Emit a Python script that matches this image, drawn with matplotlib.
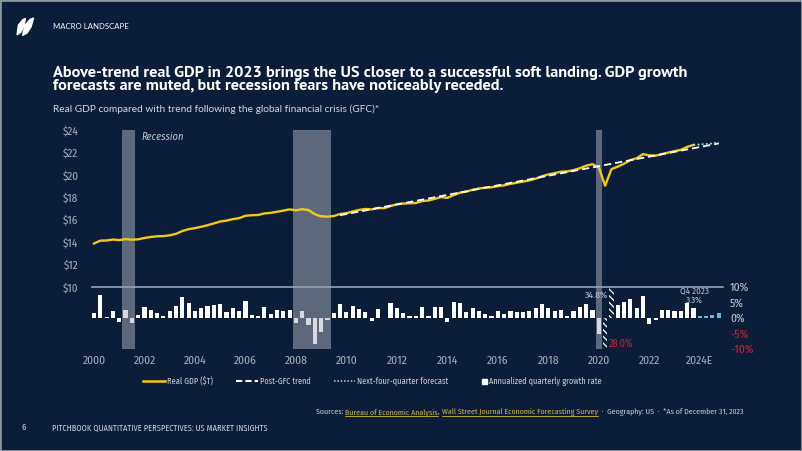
import matplotlib
matplotlib.use("Agg")
import matplotlib.pyplot as plt
import numpy as np
from matplotlib.lines import Line2D
from matplotlib.patches import Rectangle, Polygon

# ---------------- data ----------------
years = list(range(2000, 2025))
quarters = [f"{y}Q{q}" for y in years for q in (1, 2, 3, 4)]

# Real GDP, $T, 2000Q1 .. 2023Q4
real_gdp = [13.88, 14.13, 14.15, 14.23, 14.18, 14.27, 14.22, 14.25,
            14.37, 14.46, 14.52, 14.54, 14.61, 14.74, 14.99, 15.16,
            15.25, 15.37, 15.51, 15.67, 15.84, 15.92, 16.05, 16.14,
            16.35, 16.40, 16.42, 16.56, 16.61, 16.71, 16.81, 16.92,
            16.84, 16.94, 16.86, 16.49, 16.30, 16.27, 16.33, 16.51,
            16.58, 16.74, 16.87, 16.96, 16.92, 17.04, 17.03, 17.22,
            17.37, 17.44, 17.47, 17.49, 17.66, 17.71, 17.86, 18.02,
            17.95, 18.19, 18.41, 18.50, 18.67, 18.78, 18.86, 18.89,
            19.00, 19.06, 19.20, 19.30, 19.40, 19.51, 19.66, 19.88,
            20.04, 20.15, 20.28, 20.31, 20.42, 20.59, 20.82, 20.95,
            20.67, 19.03, 20.51, 20.73, 20.99, 21.31, 21.48, 21.85,
            21.74, 21.71, 21.85, 21.99, 22.11, 22.23, 22.49, 22.67]

# Annualized quarterly growth rate (%), 2000Q1 .. 2023Q4
growth = [1.5, 7.5, 0.4, 2.4, -1.3, 2.5, -1.6, 1.1,
          3.4, 2.5, 1.6, 0.5, 2.1, 3.8, 6.8, 4.7,
          2.2, 3.1, 3.8, 4.1, 4.5, 1.9, 3.2, 2.3,
          5.5, 0.9, 0.6, 3.5, 1.2, 2.5, 2.4, 2.5,
          -1.6, 2.3, -2.1, -8.5, -4.6, -0.7, 1.5, 4.5,
          1.9, 3.9, 3.0, 2.0, -1.0, 2.9, -0.1, 4.7,
          3.2, 1.7, 0.5, 0.5, 3.6, 0.5, 3.4, 3.6,
          -1.4, 5.2, 5.0, 2.0, 3.3, 2.3, 1.3, 0.6,
          2.4, 1.2, 2.4, 2.0, 2.0, 2.3, 3.2, 4.6,
          3.3, 2.1, 2.5, 0.6, 2.2, 3.4, 4.6, 2.6,
          -5.3, -28.0, 34.8, 4.2, 5.2, 6.2, 3.3, 7.0,
          -2.0, -0.6, 2.7, 2.6, 2.2, 2.1, 4.9, 3.3]

# Next-four-quarter forecast
forecast_quarters = ["2023Q4", "2024Q1", "2024Q2", "2024Q3", "2024Q4"]
forecast_gdp = [22.67, 22.71, 22.75, 22.80, 22.89]
forecast_growth_quarters = ["2024Q1", "2024Q2", "2024Q3", "2024Q4"]
forecast_growth = [0.8, 0.7, 0.9, 1.7]

# Post-GFC trend
trend_quarters = ["2009Q4", "2024Q4"]
trend_gdp = [16.40, 22.80]

recessions = [("2001Q2", "2001Q3"), ("2008Q1", "2009Q2"), ("2020Q1", "2020Q1")]

year_tick_quarters = [f"{y}Q1" for y in range(2000, 2025, 2)]
year_tick_labels = [str(y) for y in range(2000, 2023, 2)] + ["2024E"]
gdp_ticks = [10, 12, 14, 16, 18, 20, 22, 24]
gdp_tick_labels = [f"${v}" for v in gdp_ticks]
growth_ticks = [-10, -5, 0, 5, 10]
growth_tick_labels = [f"{v}%" for v in growth_ticks]
growth_clip = 10

title_lines = ["Above-trend real GDP in 2023 brings the US closer to a successful soft landing. GDP growth",
               "forecasts are muted, but recession fears have noticeably receded."]
subtitle = "Real GDP compared with trend following the global financial crisis (GFC)*"
section = "MACRO LANDSCAPE"
legend_labels = ["Real GDP ($T)", "Post-GFC trend", "Next-four-quarter forecast",
                 "Annualized quarterly growth rate"]

# ---------------- style ----------------
BG = "#0b1d38"
YELLOW = "#f2c81a"
WHITE = "#ffffff"
GREY_TXT = "#a9b1be"
RED = "#c0283c"
CYAN = "#55c3cd"
W, H = 802, 451

NARROW = ["Fira Sans Condensed", "Roboto Condensed", "DejaVu Sans"]
HUMAN = ["Lato", "DejaVu Sans"]
TITLEF = ["PT Sans", "Lato", "DejaVu Sans"]
plt.rcParams["hatch.linewidth"] = 0.9

qidx = {q: i for i, q in enumerate(quarters)}
x_hist = np.arange(len(real_gdp))


def fy(y):
    return 1 - y / H


fig = plt.figure(figsize=(W / 100, H / 100), dpi=100, facecolor=BG)

L, R, T, B = 88, 726, 130, 349
ax = fig.add_axes([L / W, 1 - B / H, (R - L) / W, (B - T) / H])
ax2 = ax.twinx()
ax.set_zorder(2)
ax2.set_zorder(1)
ax.patch.set_visible(False)
ax2.patch.set_visible(False)

step = 6.31
ax.set_xlim((L - 94) / step, (R - 94) / step)
ax.set_ylim(10 - (B - 287) * 14 / 157, 24)
ax2.set_ylim(-10, 10 + (287 - T) * 20 / 62)

for a in (ax, ax2):
    for s in a.spines.values():
        s.set_visible(False)

# growth bars
g = np.array(growth)
gc = np.clip(g, -growth_clip, growth_clip)
normal = np.abs(g) <= growth_clip
ax2.bar(x_hist[normal], gc[normal], width=0.66, color=WHITE, linewidth=0, zorder=2)
ax2.bar(x_hist[~normal], gc[~normal], width=0.66, facecolor=BG, edgecolor=WHITE,
        hatch="\\\\\\\\\\", linewidth=0, zorder=2)
fxg = [qidx[q] for q in forecast_growth_quarters]
ax2.bar(fxg, forecast_growth, width=0.66, color=CYAN, linewidth=0, zorder=2)

# recession bands
for s, e in recessions:
    ax2.axvspan(qidx[s] - 0.5, qidx[e] + 0.5, color="#b0b5bc", alpha=0.5, lw=0, zorder=3)

# separator line
ax.axhline(10, xmin=(92 - L) / (R - L), xmax=(722.7 - L) / (R - L), color="#9aa3af", lw=1.2, zorder=1)

# lines
ax.plot(x_hist, real_gdp, color=YELLOW, lw=1.7, zorder=3, solid_joinstyle="round")
ax.plot([qidx[q] for q in trend_quarters], trend_gdp, color=WHITE, lw=1.3,
        dashes=(4, 2.2), zorder=4)
ax.plot([qidx[q] for q in forecast_quarters], forecast_gdp, color="#a6dce3", lw=1.3,
        dashes=(1, 1.3), zorder=5)

# ticks
ax.set_yticks(gdp_ticks)
ax.set_yticklabels(gdp_tick_labels)
ax.tick_params(axis="y", length=0, pad=7, labelcolor=GREY_TXT, labelsize=8)
ax.set_xticks([qidx[q] for q in year_tick_quarters])
ax.set_xticklabels(year_tick_labels)
ax.tick_params(axis="x", length=0, pad=4.5, labelcolor=GREY_TXT, labelsize=8.3)
ax2.set_yticks(growth_ticks)
ax2.set_yticklabels(growth_tick_labels)
ax2.tick_params(axis="y", length=0, pad=3, labelsize=8.3)
for lbl in ax.get_xticklabels() + ax.get_yticklabels():
    lbl.set_family(NARROW)
for lbl, v in zip(ax2.get_yticklabels(), growth_ticks):
    lbl.set_family(NARROW)
    lbl.set_color(RED if v < 0 else "#c8ced6")

# annotations
i_up = int(np.argmax(g))
i_dn = int(np.argmin(g))
ax2.text(i_up - 0.55, 7.2, f"{g[i_up]:.1f}%", ha="right", va="center", fontsize=7,
         color="#b9c0ca", family=NARROW, zorder=6)
ax2.text(i_dn + 0.6, -8.4, f"{abs(g[i_dn]):.1f}%", ha="left", va="center", fontsize=7.3,
         color=RED, family=NARROW, zorder=6)
i_last = len(growth) - 1
ax2.text(i_last + 0.2, 8.4, "Q4 2023", ha="center", va="center", fontsize=6.5, color="#b9c0ca",
         family=NARROW, zorder=6)
ax2.text(i_last + 0.2, 5.6, f"{growth[i_last]:.1f}%", ha="center", va="center", fontsize=6.5,
         color="#b9c0ca", family=NARROW, zorder=6)
fig.text(141 / W, fy(137), "Recession", ha="left", va="center", fontsize=7.5, style="italic",
         color="#c3c8cf", family=NARROW)

# ---------------- text blocks ----------------
fig.canvas.draw()
renderer = fig.canvas.get_renderer()


def width_of(t):
    return t.get_window_extent(renderer).width


def fit(t, target):
    t.set_fontsize(t.get_fontsize() * target / width_of(t))
    return t


t1 = fig.text(53 / W, fy(76.5), title_lines[0], ha="left", va="baseline", fontsize=11,
              weight="bold", color=WHITE, family=TITLEF)
fit(t1, 634)
fig.text(53 / W, fy(90), title_lines[1], ha="left", va="baseline", fontsize=t1.get_fontsize(),
         weight="bold", color=WHITE, family=TITLEF)
fit(fig.text(53 / W, fy(111.5), subtitle, ha="left", va="baseline", fontsize=8,
             color="#d3d7de", family=HUMAN), 329)
fit(fig.text(53 / W, fy(28.7), section, ha="left", va="baseline", fontsize=6,
             color=WHITE, family=HUMAN), 75)
fit(fig.text(52 / W, fy(429.7), "PITCHBOOK QUANTITATIVE PERSPECTIVES: US MARKET INSIGHTS",
             ha="left", va="baseline", fontsize=6, color="#c9ced6", family=NARROW), 216)
fig.text(22 / W, fy(429.7), "6", ha="left", va="baseline", fontsize=6.5, color="#c9ced6",
         family=NARROW)

# footer with underlined links
GOLD = "#d2b64c"
FOOT = "#c9ced6"
segments = [("Sources: ", FOOT, False), ("Bureau of Economic Analysis", GOLD, True),
            (", ", FOOT, False), ("Wall Street Journal Economic Forecasting Survey", GOLD, True),
            ("  \u00b7  Geography: US  \u00b7  *As of December 31, 2023", FOOT, False)]


def tw(s, fs):
    t = fig.text(0, 0, s, fontsize=fs, family=NARROW)
    w = width_of(t)
    t.remove()
    return w


def pw(s, fs):
    return tw(s + "|", fs) - tw("|", fs)


full = "".join(s for s, _, _ in segments)
fs = 6.5
fs = fs * 431 / pw(full, fs)
x0 = 743 - pw(full, fs)
prefix = ""
ybase = 414
for s, c, ul in segments:
    xs = x0 + (pw(prefix, fs) if prefix else 0)
    fig.text(xs / W, fy(ybase), s, ha="left", va="baseline", fontsize=fs, color=c, family=NARROW)
    if ul:
        xe = xs + pw(s, fs)
        fig.add_artist(Line2D([xs / W, xe / W], [fy(ybase + 1.6)] * 2, color=c, lw=0.6,
                              transform=fig.transFigure))
    prefix += s

# legend (manual)
ly = 381
lt = fig.text(489 / W, fy(ly), legend_labels[3], ha="left", va="center", fontsize=7.5,
              color="#c8cdd5", family=NARROW)
fit(lt, 113)
leg_fs = lt.get_fontsize()
fig.add_artist(Line2D([143 / W, 165 / W], [fy(ly)] * 2, color=YELLOW, lw=1.8,
                      transform=fig.transFigure))
fig.text(167 / W, fy(ly), legend_labels[0], ha="left", va="center", fontsize=leg_fs,
         color="#c8cdd5", family=NARROW)
fig.add_artist(Line2D([236 / W, 258 / W], [fy(ly)] * 2, color=WHITE, lw=1.5, dashes=(3, 1.5),
                      transform=fig.transFigure))
fig.text(260 / W, fy(ly), legend_labels[1], ha="left", va="center", fontsize=leg_fs,
         color="#c8cdd5", family=NARROW)
fig.add_artist(Line2D([334 / W, 355 / W], [fy(ly)] * 2, color="#a6dce3", lw=1.1, dashes=(1, 1.2),
                      transform=fig.transFigure))
fig.text(357 / W, fy(ly), legend_labels[2], ha="left", va="center", fontsize=leg_fs,
         color="#c8cdd5", family=NARROW)
fig.add_artist(Rectangle((482 / W, fy(ly + 2.5)), 5 / W, 5 / H, color=WHITE,
                         transform=fig.transFigure))

# logo
for pts in ([(17, 35), (18.5, 25), (23, 19.5), (25.5, 18.5), (24, 26), (21, 32)],
            [(22.5, 35.5), (25, 25.5), (30, 19.5), (33.5, 18), (31, 27), (27, 33)]):
    fig.add_artist(Polygon([(x / W, fy(y)) for x, y in pts], closed=True, color=WHITE,
                           transform=fig.transFigure))

# frame
fig.add_artist(Rectangle((0, 0), 1, 1, fill=False, edgecolor="#8c95a2", lw=2,
                         transform=fig.transFigure))

fig.savefig("out.png", dpi=100, facecolor=BG)
